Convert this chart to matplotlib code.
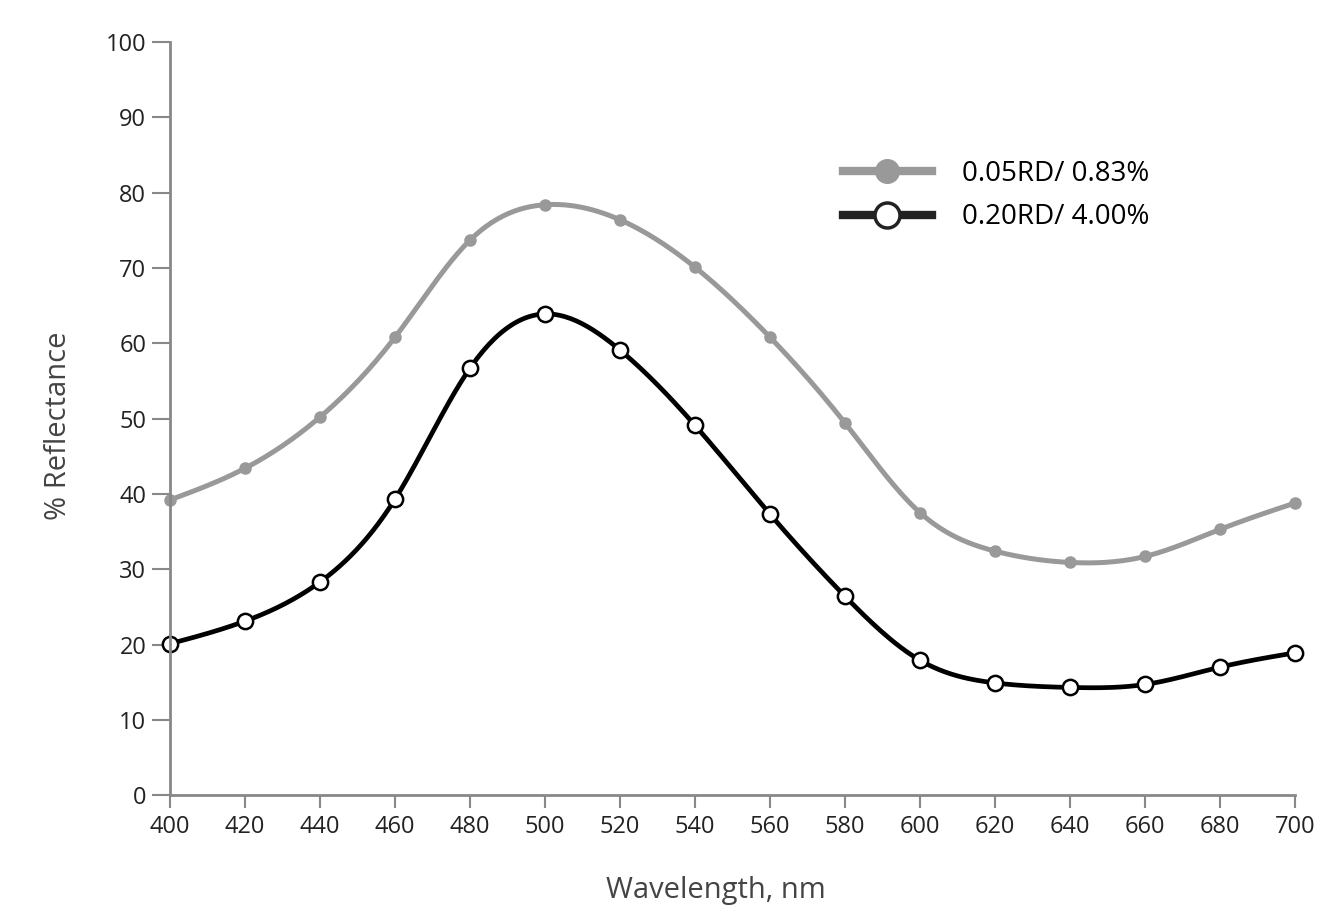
import numpy as np
import matplotlib.pyplot as plt
from matplotlib.lines import Line2D

plt.rcParams['font.family'] = ['Open Sans', 'DejaVu Sans']

# data
wavelength = [400, 420, 440, 460, 480, 500, 520, 540, 560, 580, 600, 620, 640, 660, 680, 700]
refl_005 = [39.2, 43.4, 50.2, 60.8, 73.7, 78.4, 76.4, 70.1, 60.8, 49.4, 37.5, 32.4, 30.9, 31.7, 35.3, 38.8]
refl_020 = [20.1, 23.1, 28.3, 39.3, 56.7, 63.9, 59.1, 49.1, 37.3, 26.4, 17.9, 14.9, 14.3, 14.7, 17.0, 18.9]
labels = ['0.05RD/ 0.83%', '0.20RD/ 4.00%']


def spline(x, y, n=400):
    # natural cubic spline, only for drawing the smooth line between points
    x = np.asarray(x, float)
    y = np.asarray(y, float)
    k = len(x)
    h = np.diff(x)
    A = np.zeros((k, k))
    b = np.zeros(k)
    A[0, 0] = A[-1, -1] = 1
    for i in range(1, k - 1):
        A[i, i - 1] = h[i - 1]
        A[i, i] = 2 * (h[i - 1] + h[i])
        A[i, i + 1] = h[i]
        b[i] = 6 * ((y[i + 1] - y[i]) / h[i] - (y[i] - y[i - 1]) / h[i - 1])
    m = np.linalg.solve(A, b)
    xs = np.linspace(x[0], x[-1], n)
    idx = np.clip(np.searchsorted(x, xs) - 1, 0, k - 2)
    x0, x1 = x[idx], x[idx + 1]
    hh = x1 - x0
    t1 = x1 - xs
    t0 = xs - x0
    ys = (m[idx] * t1**3 + m[idx + 1] * t0**3) / (6 * hh) \
        + (y[idx] / hh - m[idx] * hh / 6) * t1 \
        + (y[idx + 1] / hh - m[idx + 1] * hh / 6) * t0
    return xs, ys


gray = '#999999'
fig = plt.figure(figsize=(13.38, 9.15), dpi=100)
ax = fig.add_axes([0.127, 0.131, 0.841, 0.823])

xs, ys = spline(wavelength, refl_005)
ax.plot(xs, ys, color=gray, lw=3.6, clip_on=False)
ax.plot(wavelength, refl_005, 'o', color=gray, ms=8, clip_on=False)

xs, ys = spline(wavelength, refl_020)
ax.plot(xs, ys, color='black', lw=3.4, clip_on=False)
ax.plot(wavelength, refl_020, 'o', mfc='white', mec='black', mew=1.8, ms=11, clip_on=False)

ax.set_xlim(400, 700)
ax.set_ylim(0, 100)
ax.set_xticks(range(400, 701, 20))
ax.set_yticks(range(0, 101, 10))
for s in ['top', 'right']:
    ax.spines[s].set_visible(False)
for s in ['left', 'bottom']:
    ax.spines[s].set_color('#888888')
    ax.spines[s].set_linewidth(2)
ax.tick_params(axis='y', direction='out', length=13, width=1.5, color='#888888',
               labelsize=17, labelcolor='#222222', pad=4)
ax.tick_params(axis='x', direction='out', length=9, width=1.5, color='#888888',
               labelsize=17, labelcolor='#222222', pad=5)
ax.set_xlabel('Wavelength, nm', fontsize=21, color='#444444')
ax.set_ylabel('% Reflectance', fontsize=21, color='#444444')
ax.xaxis.set_label_coords(0.485, -0.108)
ax.yaxis.set_label_coords(-0.086, 0.49)

handles = [
    Line2D([], [], color=gray, lw=6, marker='o', ms=17, mfc=gray, mec=gray),
    Line2D([], [], color='#222222', lw=6, marker='o', ms=18, mfc='white', mec='#222222', mew=2.5),
]
ax.legend(handles, labels, loc='upper left', bbox_to_anchor=(0.630, 0.825),
          bbox_transform=fig.transFigure, frameon=False, borderpad=0, borderaxespad=0,
          fontsize=20, handlelength=3.2, handletextpad=1.1, labelspacing=0.55)

fig.savefig('out.png', dpi=100)
